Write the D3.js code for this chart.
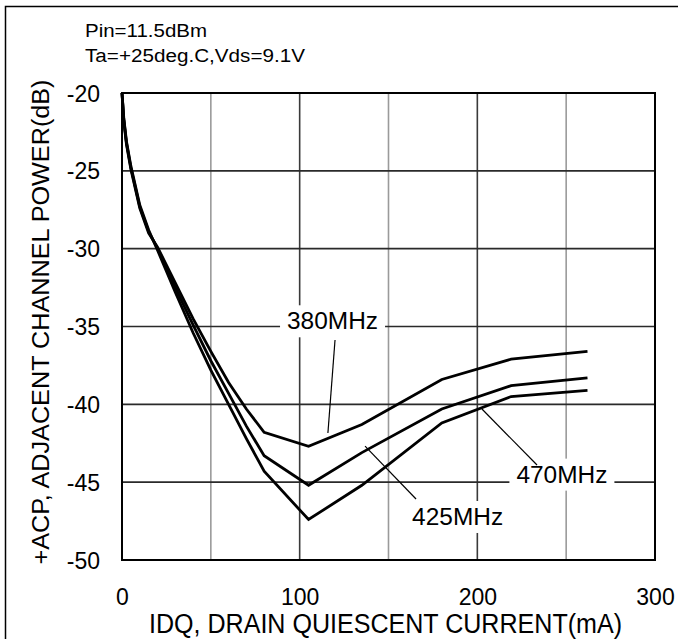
<!DOCTYPE html>
<html>
<head>
<meta charset="utf-8">
<script src="https://cdn.jsdelivr.net/npm/d3@7"></script>
<style>
  html, body { margin: 0; padding: 0; background: #fff; }
  svg { display: block; font-family: "Liberation Sans", Arial, Helvetica, sans-serif; }
</style>
</head>
<body>
<svg id="chart" width="678" height="639"></svg>
<script>
// Drain quiescent current (mA) at each measured point
const current = [0, 1, 2.5, 5, 10, 15, 20, 30, 40, 50, 60, 70, 80, 105, 135, 180, 219, 262];
// Adjacent channel power (dB) for each carrier frequency
const acp380 = [-20, -21.8, -23.3, -24.9, -27.4, -29.0, -29.9, -32.2, -34.5, -36.6, -38.6, -40.3, -41.8, -42.7, -41.3, -38.4, -37.1, -36.6];
const acp425 = [-20, -21.7, -23.2, -24.8, -27.3, -28.9, -30.0, -32.5, -34.9, -37.2, -39.3, -41.4, -43.3, -45.2, -43.1, -40.3, -38.8, -38.3];
const acp470 = [-20, -21.6, -23.1, -24.7, -27.2, -28.8, -30.1, -32.8, -35.4, -37.8, -40.0, -42.2, -44.3, -47.4, -45.2, -41.2, -39.5, -39.1];

const seriesNames = ["380MHz", "425MHz", "470MHz"];
const xTickValues = [0, 100, 200, 300];
const xGridValues = [50, 100, 150, 200, 250];
const yTickValues = [-20, -25, -30, -35, -40, -45, -50];
const notes = ["Pin=11.5dBm", "Ta=+25deg.C,Vds=9.1V"];
const xTitle = "IDQ, DRAIN QUIESCENT CURRENT(mA)";
const yTitle = "+ACP, ADJACENT CHANNEL POWER(dB)";

// Callouts: label anchor (mA, dB) and leader line ends in data units
const callouts = [
  { name: seriesNames[0], at: [118.5, -35.18], from: [119.9, -35.87], to: [115.9, -41.84] },
  { name: seriesNames[1], at: [188.9, -47.75], from: [165.5, -46.08], to: [136.8, -42.68] },
  { name: seriesNames[2], at: [247.6, -45.03], from: [233.6, -43.90], to: [202.6, -40.30] }
];

const svg = d3.select("#chart");
const plot = { left: 122, right: 655, top: 93, bottom: 560 };

const x = d3.scaleLinear().domain([0, 300]).range([plot.left, plot.right]);
const y = d3.scaleLinear().domain([-50, -20]).range([plot.bottom, plot.top]);

// Outer frame
svg.append("rect")
  .attr("x", 5.5).attr("y", 6.5)
  .attr("width", 800).attr("height", 800)
  .attr("fill", "none").attr("stroke", "#000").attr("stroke-width", 1.5);

// Grid
const grid = svg.append("g");
grid.selectAll(".vg").data(xGridValues).join("line")
  .attr("x1", d => x(d)).attr("x2", d => x(d))
  .attr("y1", plot.top).attr("y2", plot.bottom)
  .attr("stroke", d => d % 100 === 0 ? "#3a3a3a" : "#9a9a9a")
  .attr("stroke-width", 1.6);
grid.selectAll(".hg").data(yTickValues.filter(v => v > -50 && v < -20)).join("line")
  .attr("x1", plot.left).attr("x2", plot.right)
  .attr("y1", d => y(d)).attr("y2", d => y(d))
  .attr("stroke", "#2a2a2a").attr("stroke-width", 1.6);

// Curves
const line = d3.line().x(d => x(d[0])).y(d => y(d[1])).curve(d3.curveLinear);
[acp380, acp425, acp470].forEach(vals => {
  svg.append("path")
    .datum(current.map((c, i) => [c, vals[i]]))
    .attr("d", line)
    .attr("fill", "none")
    .attr("stroke", "#000")
    .attr("stroke-width", 2.8)
    .attr("stroke-linejoin", "miter");
});

// Callout labels with white backing
callouts.forEach(c => {
  const g = svg.append("g");
  const bg = g.append("rect").attr("fill", "#fff");
  const t = g.append("text")
    .attr("x", x(c.at[0])).attr("y", y(c.at[1]))
    .attr("text-anchor", "middle")
    .attr("font-size", 23)
    .attr("textLength", 91).attr("lengthAdjust", "spacingAndGlyphs")
    .attr("fill", "#000")
    .text(c.name);
  const bb = t.node().getBBox();
  bg.attr("x", bb.x - 7).attr("y", bb.y - 3)
    .attr("width", bb.width + 14).attr("height", bb.height + 6);
  svg.append("line")
    .attr("x1", x(c.from[0])).attr("y1", y(c.from[1]))
    .attr("x2", x(c.to[0])).attr("y2", y(c.to[1]))
    .attr("stroke", "#000").attr("stroke-width", 1.2);
});

// Plot border
svg.append("rect")
  .attr("x", plot.left).attr("y", plot.top)
  .attr("width", plot.right - plot.left).attr("height", plot.bottom - plot.top)
  .attr("fill", "none").attr("stroke", "#000").attr("stroke-width", 2);

// Axes (labels only, no tick marks); plain hyphen for negatives
const fmt = d => String(d);
const xAxis = d3.axisBottom(x).tickValues(xTickValues).tickSize(0).tickPadding(0).tickFormat(fmt);
const gx = svg.append("g").attr("transform", `translate(0,${plot.bottom})`).call(xAxis);
gx.select(".domain").remove();
gx.selectAll("text")
  .attr("dy", null).attr("y", 45)
  .attr("font-size", 23).attr("font-family", null).attr("fill", "#000");

const yAxis = d3.axisLeft(y).tickValues(yTickValues).tickSize(0).tickPadding(0).tickFormat(fmt);
const gy = svg.append("g").attr("transform", `translate(100,0)`).call(yAxis);
gy.select(".domain").remove();
gy.selectAll("text")
  .attr("x", 0).attr("dy", "0.35em")
  .attr("font-size", 23).attr("font-family", null).attr("fill", "#000");

// Condition notes
const noteWidths = [122, 220];
notes.forEach((n, i) => {
  svg.append("text")
    .attr("x", 85).attr("y", 37 + i * 25)
    .attr("font-size", 18)
    .attr("textLength", noteWidths[i]).attr("lengthAdjust", "spacingAndGlyphs")
    .attr("fill", "#000")
    .text(n);
});

// Axis titles
svg.append("text")
  .attr("x", 385.5).attr("y", 633)
  .attr("text-anchor", "middle")
  .attr("font-size", 27)
  .attr("textLength", 473).attr("lengthAdjust", "spacingAndGlyphs")
  .attr("fill", "#000")
  .text(xTitle);

svg.append("text")
  .attr("transform", "translate(49,322) rotate(-90)")
  .attr("text-anchor", "middle")
  .attr("font-size", 23)
  .attr("textLength", 485).attr("lengthAdjust", "spacingAndGlyphs")
  .attr("fill", "#000")
  .text(yTitle);
</script>
</body>
</html>
